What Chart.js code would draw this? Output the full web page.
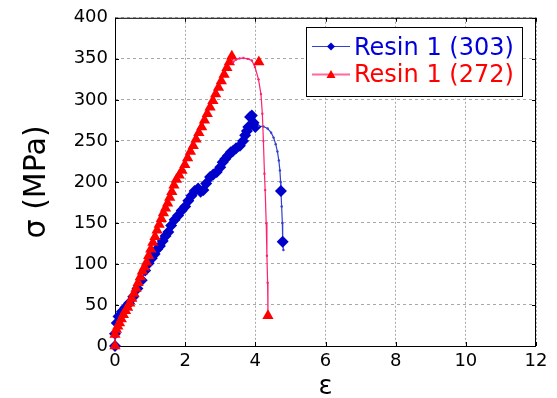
<!DOCTYPE html>
<html><head><meta charset="utf-8">
<script src="https://cdn.jsdelivr.net/npm/chart.js@4/dist/chart.umd.min.js"></script>
<style>html,body{margin:0;padding:0;background:#fff}#wrap{width:557px;height:398px;position:relative}</style>
</head><body><div id="wrap"><canvas id="c" width="557" height="398"></canvas></div>
<script>
// ---- data (strain ε, stress σ in MPa) ----
const seriesNames = ['Resin 1 (303)', 'Resin 1 (272)'];

const blueRiseX = [0,0,0.05,0.1,0.2,0.3,0.4,0.52,0.64,0.76,0.86,0.96,1.05,1.13,1.2,1.28,1.36,1.44,1.52,1.6,1.7,1.8,1.9,2.0,2.09,2.18,2.27,2.37,2.44,2.52,2.6,2.71,2.8,2.9,3.0,3.07,3.14,3.22,3.3,3.37,3.45,3.56,3.65,3.71,3.76,3.8,3.85,3.9,3.95,4.0];
const blueRiseY = [0,15,28,36,42,47,52,60,70,80,92,101,107,112,118,122,128,134,139,147,154,159,165,170,177,183,189,192,188,190,198,206,209,212,218,224,228,232,236,238,241,244,250,257,262,267,279,281,272,267];
const blueTailX = [4.1,4.23,4.35,4.45,4.52,4.58,4.63,4.67,4.7,4.72,4.73,4.75,4.77,4.78,4.8];
const blueTailY = [268,267.5,265,260,254,246,237,226,214,200,189,170,150,127,117];
const blueExtraX = [4.73,4.78];
const blueExtraY = [189,127];

const redRiseX = [0,0,0.04,0.08,0.13,0.18,0.24,0.3,0.36,0.42,0.48,0.54,0.6,0.66,0.72,0.78,0.84,0.9,0.96,1.02,1.08,1.14,1.2,1.26,1.32,1.38,1.44,1.5,1.56,1.62,1.68,1.75,1.83,1.91,1.99,2.07,2.15,2.23,2.31,2.39,2.47,2.55,2.63,2.71,2.79,2.87,2.95,3.03,3.11,3.19,3.26,3.33];
const redRiseY = [0,14,20,24,28,33,38,43,47,52,58,64,70,77,84,91,96,102,110,118,126,133,141,148,155,162,168,174,181,188,196,203,208,214,221,229,237,244,252,260,267,275,283,291,299,307,315,323,331,339,346,353];
const redTailX = [3.37,3.45,3.55,3.66,3.78,3.9,3.99,4.09,4.16,4.2,4.23,4.26,4.28,4.31,4.33,4.35,4.36];
const redTailY = [346,349,350.5,351,350,348,340,325,307,283,250,210,190,150,110,77,37];
const redExtraX = [4.1,4.36];
const redExtraY = [346,37];

const xTickStep = 2, xMax = 12;
const yTickStep = 50, yMax = 400;

// ---- styles ----
const FONT = 'DejaVu Sans';
const BLUE_M = '#0000cc', BLUE_L = '#3040d0', BLUE_T = '#0000dd';
const RED_M = '#ff0000', RED_L = '#ff2070', RED_T = '#ff0000';

function pts(xs, ys){ return xs.map((x,i)=>({x:x, y:ys[i]})); }

const blueLine = pts(blueRiseX.concat(blueTailX), blueRiseY.concat(blueTailY));
const redLine = pts(redRiseX.concat(redTailX), redRiseY.concat(redTailY));
const nBlueRise = blueRiseX.length, nRedRise = redRiseX.length;

const frame = {
  id:'frame',
  beforeDatasetsDraw(chart){
    const {ctx, chartArea:a, scales:{x, y}} = chart;
    ctx.save();
    ctx.strokeStyle = '#000'; ctx.lineWidth = 1; ctx.setLineDash([]);
    ctx.strokeRect(a.left+0.5, a.top+0.5, a.right-a.left-1, a.bottom-a.top);
    ctx.beginPath();
    x.ticks.forEach(t=>{
      const px = Math.round(x.getPixelForValue(t.value))+0.5;
      ctx.moveTo(px, a.bottom); ctx.lineTo(px, a.bottom-4);
      ctx.moveTo(px, a.top); ctx.lineTo(px, a.top+4);
    });
    y.ticks.forEach(t=>{
      const py = Math.round(y.getPixelForValue(t.value))+0.5;
      ctx.moveTo(a.left, py); ctx.lineTo(a.left+4, py);
      ctx.moveTo(a.right, py); ctx.lineTo(a.right-4, py);
    });
    ctx.stroke();
    ctx.restore();
  }
};

function diamond(ctx, cx, cy, r){
  ctx.beginPath(); ctx.moveTo(cx, cy-r); ctx.lineTo(cx+r, cy); ctx.lineTo(cx, cy+r); ctx.lineTo(cx-r, cy); ctx.closePath(); ctx.fill();
}
function tri(ctx, cx, cy, r){
  ctx.beginPath(); ctx.moveTo(cx, cy-r); ctx.lineTo(cx+r*0.9, cy+r*0.6); ctx.lineTo(cx-r*0.9, cy+r*0.6); ctx.closePath(); ctx.fill();
}

const legendBox = {
  id:'legendBox',
  afterDatasetsDraw(chart){
    const ctx = chart.ctx;
    ctx.save();
    ctx.setLineDash([]);
    const bx = 306.5, by = 27.5, bw = 216, bh = 69;
    ctx.fillStyle = '#fff'; ctx.fillRect(bx, by, bw, bh);
    ctx.strokeStyle = '#000'; ctx.lineWidth = 1; ctx.strokeRect(bx, by, bw, bh);
    const rows = [
      {y:46.5, base:55, line:BLUE_L, mark:BLUE_M, text:BLUE_T, kind:'d', label:seriesNames[0]},
      {y:74.5, base:82, line:'#ff6a98', mark:RED_M, text:RED_T, kind:'t', label:seriesNames[1]}
    ];
    rows.forEach(r=>{
      ctx.strokeStyle = r.line; ctx.lineWidth = r.kind==='t'?2:1;
      ctx.beginPath(); ctx.moveTo(312, r.y); ctx.lineTo(350, r.y); ctx.stroke();
      ctx.fillStyle = r.mark;
      if (r.kind==='d') diamond(ctx, 331, r.y, 4); else tri(ctx, 331, r.y+0.5, 5);
      ctx.fillStyle = r.text; ctx.font = '24px "' + FONT + '"';
      ctx.textBaseline = 'alphabetic'; ctx.textAlign = 'left';
      ctx.fillText(r.label, 354, r.base);
    });
    ctx.restore();
  }
};

new Chart(document.getElementById('c'), {
  type:'scatter',
  data:{ datasets:[
    { label:seriesNames[0], data:blueLine, showLine:true, borderColor:BLUE_L, borderWidth:1.2,
      backgroundColor:BLUE_M, pointBorderWidth:0, order:4, clip:false,
      pointStyle:(c)=> c.dataIndex < nBlueRise ? 'rectRot' : 'circle',
      pointRadius:(c)=> c.dataIndex < nBlueRise ? 6 : 1.2,
      pointBackgroundColor:(c)=> c.dataIndex < nBlueRise ? BLUE_M : BLUE_L },
    { label:seriesNames[0]+' markers', data:pts(blueExtraX, blueExtraY), showLine:false,
      pointStyle:'rectRot', pointRadius:6, pointBorderWidth:0, backgroundColor:BLUE_M, order:3, clip:false },
    { label:seriesNames[1], data:redLine, showLine:true, borderColor:RED_L, borderWidth:1.2,
      backgroundColor:RED_M, pointBorderWidth:0, order:2, clip:false,
      pointStyle:(c)=> c.dataIndex < nRedRise ? 'triangle' : 'circle',
      pointRadius:(c)=> c.dataIndex < nRedRise ? 6.5 : 1.2,
      pointBackgroundColor:(c)=> c.dataIndex < nRedRise ? RED_M : RED_L },
    { label:seriesNames[1]+' markers', data:pts(redExtraX, redExtraY), showLine:false,
      pointStyle:'triangle', pointRadius:6.5, pointBorderWidth:0, backgroundColor:RED_M, order:1, clip:false }
  ]},
  options:{
    responsive:false, animation:false, devicePixelRatio:1,
    layout:{padding:{left:0, top:17, right:21, bottom:0}},
    plugins:{legend:{display:false}, tooltip:{enabled:false}},
    elements:{line:{tension:0}},
    scales:{
      x:{ type:'linear', min:0, max:xMax,
        ticks:{stepSize:xTickStep, color:'#000', font:{family:FONT, size:18}, padding:5},
        grid:{color:'#a8a8a8', drawTicks:false, tickLength:0, lineWidth:1},
        border:{display:false, dash:[2,2]},
        title:{display:true, text:'ε', color:'#000', font:{family:FONT, size:26, lineHeight:1}, padding:{top:0, bottom:-2}},
        afterFit(s){ s.height = 52; } },
      y:{ type:'linear', min:0, max:yMax,
        ticks:{stepSize:yTickStep, color:'#000', font:{family:FONT, size:18}, padding:7},
        grid:{color:'#a8a8a8', drawTicks:false, tickLength:0, lineWidth:1},
        border:{display:false, dash:[3,3]},
        title:{display:true, text:'σ (MPa)', color:'#000', font:{family:FONT, size:30, lineHeight:1.2}, padding:{top:19, bottom:0}},
        afterFit(s){ s.width = 115; } }
    }
  },
  plugins:[frame, legendBox]
});
</script></body></html>
